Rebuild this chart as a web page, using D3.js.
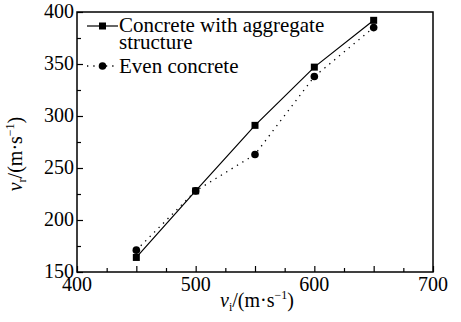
<!DOCTYPE html>
<html>
<head>
<meta charset="utf-8">
<script src="https://cdn.jsdelivr.net/npm/d3@7"></script>
</head>
<body style="margin:0">
<script>
const xValues = [450, 500, 550, 600, 650];
const aggregateValues = [164, 228, 291, 347, 392];
const evenValues = [171, 228, 263, 338, 385];
const xTickLabels = [400, 500, 600, 700];
const yTickLabels = [150, 200, 250, 300, 350, 400];
const seriesNames = ['Concrete with aggregate', 'structure', 'Even concrete'];

const width = 461;
const height = 322;
const margin = { top: 12, right: 28, bottom: 50, left: 77 };
const serifFont = '"Liberation Serif"';

const svg = d3.select('body')
  .append('svg')
  .attr('width', width)
  .attr('height', height)

const x = d3.scaleLinear().domain([400, 700]).range([margin.left, width - margin.right]);
const y = d3.scaleLinear().domain([150, 400]).range([height - margin.bottom, margin.top]);

// frame
svg.append('rect')
  .attr('x', x(400))
  .attr('y', y(400))
  .attr('width', x(700) - x(400))
  .attr('height', y(150) - y(400))
  .attr('fill', 'none')
  .attr('stroke', '#000')
  .attr('stroke-width', 1.5)

// ticks pointing inward (major every 50, minor between)
const xAxis = d3.axisBottom(x).tickValues(d3.range(400, 701, 50)).tickSize(-6).tickFormat('');
const xMinor = d3.axisBottom(x).tickValues(d3.range(425, 700, 50)).tickSize(-4).tickFormat('');
const yAxis = d3.axisLeft(y).tickValues(d3.range(150, 401, 50)).tickSize(-6).tickFormat('');
const yMinor = d3.axisLeft(y).tickValues(d3.range(175, 400, 50)).tickSize(-4).tickFormat('');

[xAxis, xMinor].forEach(a => {
  svg.append('g').attr('transform', `translate(0,${y(150)})`).call(a)
    .call(g => g.select('.domain').remove())
    .call(g => g.selectAll('text').remove())
    .call(g => g.selectAll('line').attr('stroke-width', 1.2));
});
[yAxis, yMinor].forEach(a => {
  svg.append('g').attr('transform', `translate(${x(400)},0)`).call(a)
    .call(g => g.select('.domain').remove())
    .call(g => g.selectAll('text').remove())
    .call(g => g.selectAll('line').attr('stroke-width', 1.2));
});

// tick labels
svg.selectAll('.xlab')
  .data(xTickLabels)
  .enter()
  .append('text')
  .attr('x', d => x(d))
  .attr('y', y(150) + 19)
  .attr('text-anchor', 'middle')
  .style('font-family', serifFont)
  .style('font-size', '20px')
  .text(d => d)

svg.selectAll('.ylab')
  .data(yTickLabels)
  .enter()
  .append('text')
  .attr('x', x(400) - 3)
  .attr('y', d => y(d) + 6)
  .attr('text-anchor', 'end')
  .style('font-family', serifFont)
  .style('font-size', '20px')
  .text(d => d)

// axis titles
const xt = svg.append('text')
  .attr('x', 257)
  .attr('y', 307)
  .attr('text-anchor', 'middle')
  .style('font-family', serifFont)
  .style('font-size', '20px')
xt.append('tspan').style('font-style', 'italic').text('v')
xt.append('tspan').attr('dy', 4).style('font-size', '12px').text('i')
xt.append('tspan').attr('dy', -4).text('/(m·s')
xt.append('tspan').attr('dy', -8).style('font-size', '12px').text('−1')
xt.append('tspan').attr('dy', 8).text(')')

const yt = svg.append('text')
  .attr('transform', `translate(22,${(y(150) + y(400)) / 2 + 12}) rotate(-90)`)
  .attr('text-anchor', 'middle')
  .style('font-family', serifFont)
  .style('font-size', '20px')
yt.append('tspan').style('font-style', 'italic').text('v')
yt.append('tspan').attr('dy', 4).style('font-size', '12px').text('r')
yt.append('tspan').attr('dy', -4).text('/(m·s')
yt.append('tspan').attr('dy', -8).style('font-size', '12px').text('−1')
yt.append('tspan').attr('dy', 8).text(')')

// series
const line = d3.line().x(d => x(d[0])).y(d => y(d[1]));
const aggData = d3.zip(xValues, aggregateValues);
const evenData = d3.zip(xValues, evenValues);

svg.append('path')
  .attr('d', line(evenData))
  .attr('fill', 'none')
  .attr('stroke', '#000')
  .attr('stroke-width', 1.3)
  .attr('stroke-dasharray', '1.3,5')

svg.append('path')
  .attr('d', line(aggData))
  .attr('fill', 'none')
  .attr('stroke', '#000')
  .attr('stroke-width', 1.2)

svg.selectAll('.sq')
  .data(aggData)
  .enter()
  .append('rect')
  .attr('x', d => x(d[0]) - 3.5)
  .attr('y', d => y(d[1]) - 3.5)
  .attr('width', 7)
  .attr('height', 7)
  .attr('fill', '#000')

svg.selectAll('.dot')
  .data(evenData)
  .enter()
  .append('circle')
  .attr('cx', d => x(d[0]))
  .attr('cy', d => y(d[1]))
  .attr('r', 3.8)
  .attr('fill', '#000')

// legend
const lg = svg.append('g')
lg.append('line').attr('x1', 87).attr('x2', 118).attr('y1', 26).attr('y2', 26)
  .attr('stroke', '#000').attr('stroke-width', 1.2)
lg.append('rect').attr('x', 99).attr('y', 22.5).attr('width', 7).attr('height', 7).attr('fill', '#000')
lg.append('line').attr('x1', 87).attr('x2', 118).attr('y1', 66).attr('y2', 66)
  .attr('stroke', '#000').attr('stroke-width', 1.3).attr('stroke-dasharray', '1.3,5')
lg.append('circle').attr('cx', 102.5).attr('cy', 66).attr('r', 3.8).attr('fill', '#000')

lg.selectAll('.lt')
  .data(seriesNames)
  .enter()
  .append('text')
  .attr('x', 119)
  .attr('y', (d, i) => [32, 49, 73][i])
  .style('font-family', serifFont)
  .style('font-size', '21px')
  .text(d => d)
</script>
</body>
</html>
